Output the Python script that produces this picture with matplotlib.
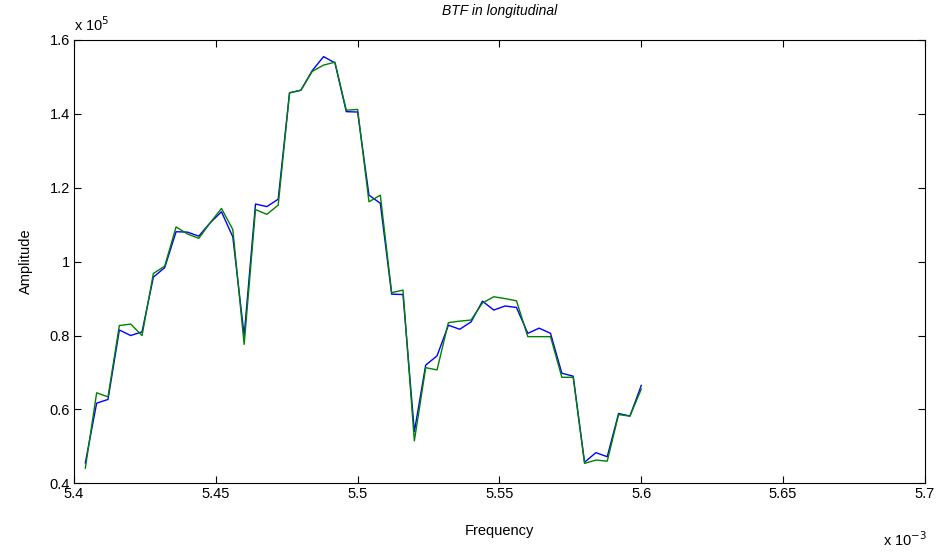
import matplotlib
matplotlib.use("Agg")
import matplotlib.pyplot as plt
import numpy as np

# frequency in units of 1e-3, amplitude in units of 1e5
freq_e3 = [5.404, 5.408, 5.412, 5.416, 5.420, 5.424, 5.428, 5.432, 5.436, 5.440,
           5.444, 5.448, 5.452, 5.456, 5.460, 5.464, 5.468, 5.472, 5.476, 5.480,
           5.484, 5.488, 5.492, 5.496, 5.500, 5.504, 5.508, 5.512, 5.516, 5.520,
           5.524, 5.528, 5.532, 5.536, 5.540, 5.544, 5.548, 5.552, 5.556, 5.560,
           5.564, 5.568, 5.572, 5.576, 5.580, 5.584, 5.588, 5.592, 5.596, 5.600]

amp_blue = [0.455, 0.617, 0.627, 0.815, 0.800, 0.810, 0.958, 0.984, 1.081, 1.080,
            1.069, 1.105, 1.135, 1.067, 0.800, 1.156, 1.149, 1.169, 1.457, 1.464,
            1.517, 1.555, 1.538, 1.406, 1.405, 1.180, 1.158, 0.912, 0.911, 0.540,
            0.720, 0.745, 0.828, 0.817, 0.837, 0.893, 0.869, 0.880, 0.876, 0.806,
            0.820, 0.806, 0.698, 0.690, 0.457, 0.483, 0.472, 0.589, 0.582, 0.665]

amp_green = [0.441, 0.645, 0.634, 0.827, 0.831, 0.800, 0.968, 0.988, 1.094, 1.075,
             1.063, 1.105, 1.144, 1.087, 0.776, 1.141, 1.128, 1.153, 1.457, 1.464,
             1.515, 1.532, 1.540, 1.410, 1.412, 1.162, 1.180, 0.916, 0.923, 0.515,
             0.713, 0.707, 0.835, 0.839, 0.842, 0.888, 0.905, 0.900, 0.894, 0.797,
             0.797, 0.797, 0.687, 0.687, 0.454, 0.463, 0.460, 0.586, 0.582, 0.655]

x_ticks = [5.4, 5.45, 5.5, 5.55, 5.6, 5.65, 5.7]
x_tick_labels = ["5.4", "5.45", "5.5", "5.55", "5.6", "5.65", "5.7"]
y_ticks = [0.4, 0.6, 0.8, 1.0, 1.2, 1.4, 1.6]
y_tick_labels = ["0.4", "0.6", "0.8", "1", "1.2", "1.4", "1.6"]

plt.rcParams["font.family"] = ["Liberation Sans", "DejaVu Sans"]

fig = plt.figure(figsize=(9.47, 5.53), dpi=100)
ax = fig.add_axes([0.0781, 0.126, 0.8986, 0.8017])

ax.plot(freq_e3, amp_blue, color="#0000ff", linewidth=1.0)
ax.plot(freq_e3, amp_green, color="#008000", linewidth=1.0)

ax.set_xlim(5.4, 5.7)
ax.set_ylim(0.4, 1.6)
ax.set_xticks(x_ticks)
ax.set_xticklabels(x_tick_labels)
ax.set_yticks(y_ticks)
ax.set_yticklabels(y_tick_labels)
ax.tick_params(direction="in", top=True, right=True, length=5, width=0.8,
               labelsize=10.5, colors="#000000", pad=3)
for s in ax.spines.values():
    s.set_linewidth(0.8)
    s.set_color("#000000")

ax.set_title("BTF in longitudinal", fontsize=10, style="italic", pad=18)
ax.set_xlabel("Frequency", fontsize=10.5, labelpad=16)
ax.set_ylabel("Amplitude", fontsize=10.5, labelpad=12)

fig.text(0.0781, 0.938, r"x 10$^{5}$", fontsize=10.5, ha="left", va="bottom")
fig.text(0.979, 0.008, r"x 10$^{-3}$", fontsize=10.5, ha="right", va="bottom")

fig.savefig("out.png", dpi=100)
